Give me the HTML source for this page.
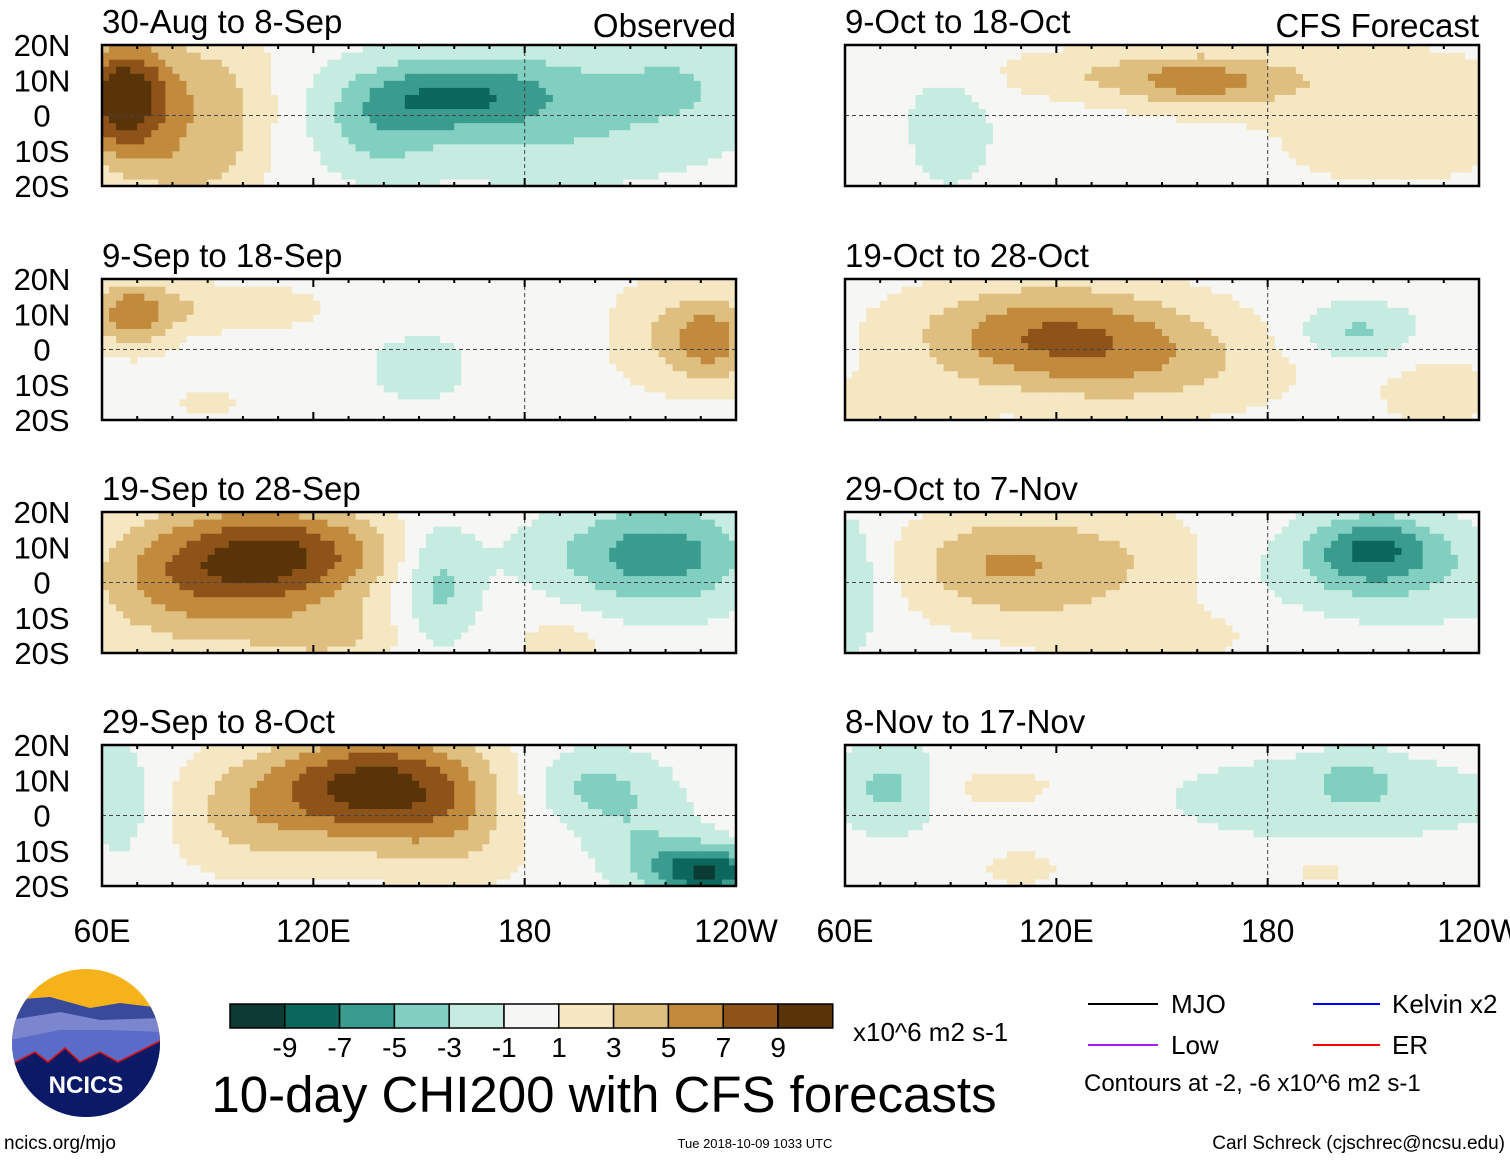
<!DOCTYPE html>
<html><head><meta charset="utf-8"><style>
body{margin:0;background:#fff;}
svg text{font-family:"Liberation Sans",sans-serif;fill:#000;}
</style></head><body>
<svg id="chart" width="1510" height="1159" viewBox="0 0 1510 1159" xmlns="http://www.w3.org/2000/svg">
<g id="panels"></g>
<g id="colorbar"></g>
<g>
<defs><clipPath id="lc"><circle cx="86" cy="1043" r="74"/></clipPath></defs>
<g clip-path="url(#lc)">
<rect x="10" y="968" width="152" height="150" fill="#f6b21a"/>
<path d="M10 1000 L50 997 L90 1008 L120 1003 L162 1008 L162 1118 L10 1118Z" fill="#3a4a9a"/>
<path d="M10 1020 L60 1012 L100 1020 L162 1018 L162 1118 L10 1118Z" fill="#7b86cf"/>
<path d="M10 1040 L60 1030 L110 1030 L162 1032 L162 1118 L10 1118Z" fill="#5a6cc8"/>
<path d="M10 1065 L35 1052 L48 1062 L65 1048 L80 1062 L100 1052 L118 1062 L162 1040 L162 1118 L10 1118Z" fill="#0b1a66" stroke="#e01010" stroke-width="1.5"/>
</g>
<text x="86" y="1093" font-size="24" font-weight="bold" text-anchor="middle" style="fill:#fff">NCICS</text>
</g>
<text x="4" y="1149" font-size="19">ncics.org/mjo</text>
<text x="604" y="1112" font-size="51" text-anchor="middle">10-day CHI200 with CFS forecasts</text>
<text x="755" y="1148" font-size="13" text-anchor="middle">Tue 2018-10-09 1033 UTC</text>
<text x="1505" y="1149" font-size="19" text-anchor="end">Carl Schreck (cjschrec@ncsu.edu)</text>
<text x="853" y="1041" font-size="26">x10^6 m2 s-1</text>
<g>
<line x1="1088" y1="1004" x2="1158" y2="1004" stroke="#000" stroke-width="2"/><text x="1171" y="1013" font-size="26">MJO</text>
<line x1="1088" y1="1045" x2="1158" y2="1045" stroke="#a020f0" stroke-width="2"/><text x="1171" y="1054" font-size="26">Low</text>
<line x1="1313" y1="1004" x2="1380" y2="1004" stroke="#0000ff" stroke-width="2"/><text x="1392" y="1013" font-size="26">Kelvin x2</text>
<line x1="1313" y1="1045" x2="1380" y2="1045" stroke="#ff0000" stroke-width="2"/><text x="1392" y="1054" font-size="26">ER</text>
<text x="1084" y="1091" font-size="24">Contours at -2, -6 x10^6 m2 s-1</text>
</g>
</svg>
<script>
const levels=[-9,-7,-5,-3,-1,1,3,5,7,9];
const colors=["#0b3b33","#0c675c","#3a9c8f","#80cfc0","#c6ece2","#f6f6f4","#f6e7c3","#dfbf7f","#c18a3c","#8e5318","#5a3409"];
const titles=["30-Aug to 8-Sep","9-Sep to 18-Sep","19-Sep to 28-Sep","29-Sep to 8-Oct","9-Oct to 18-Oct","19-Oct to 28-Oct","29-Oct to 7-Nov","8-Nov to 17-Nov"];
// blobs: [lon, lat, amplitude, sigmaLon, sigmaLat]
const blobs0=[[66,5,11,10,12],[92,2,4,12,16],[82,-15,2,12,6],[160,6,-5,18,7],[190,2,-3.5,35,14],[138,-3,-3,12,10],[225,10,-1.5,12,8]];
const blobs1=[[68,10,5.5,9,7],[95,12,2.5,20,5],[150,-5,-2.2,10,7],[233,3,6,9,9],[215,5,2,10,12],[90,-15,1.2,12,5]];
const blobs2=[[112,8,8,22,10],[85,0,5,22,14],[125,-15,3,15,6],[155,0,-4,8,12],[220,8,-5.5,18,11],[190,-17,2.5,8,4],[195,8,-1.5,20,8]];
const blobs3=[[135,8,9.5,20,11],[160,0,3,15,15],[100,0,3,15,12],[65,5,-2.5,7,12],[200,8,-3.5,14,8],[232,-16,-9,11,5],[215,-8,-2.5,12,8]];
const blobs4=[[160,10,4.2,15,5],[195,10,2.5,40,8],[125,12,2,20,5],[90,-3,-2,10,14],[215,-10,1.8,25,8]];
const blobs5=[[118,5,6.2,28,10],[145,-5,3,30,10],[205,5,-3.5,12,6],[75,-15,2,15,6],[228,-12,2,12,8]];
const blobs6=[[125,5,3.8,28,12],[100,5,2.5,15,10],[210,10,-6,13,7],[215,2,-2.5,35,10],[62,0,-2.5,6,15],[150,-15,1.5,25,6]];
const blobs7=[[72,8,-3.5,10,9],[200,5,-2,40,10],[205,10,-2.5,8,5],[105,8,1.8,14,5],[110,-15,2,8,4],[195,-15,1.5,10,4]];
const allBlobs=[blobs0,blobs1,blobs2,blobs3,blobs4,blobs5,blobs6,blobs7];
const panelX=[102,845], panelY=[45,279,512,745], PW=634, PH=141;
const NS="http://www.w3.org/2000/svg";
function mk(t,a,p){const e=document.createElementNS(NS,t);for(const k in a)e.setAttribute(k,a[k]);p.appendChild(e);return e;}
function col(v){let i=0;while(i<levels.length&&v>levels[i])i++;return colors[i];}
const root=document.getElementById('panels');
for(let p=0;p<8;p++){
  const ox=panelX[p<4?0:1], oy=panelY[p%4];
  const xs=lon=>ox+(lon-60)/180*PW, ys=lat=>oy+(20-lat)/40*PH;
  const g=mk('g',{},root);
  
  
  const b=allBlobs[p];
  for(let lon=60;lon<240;lon+=2){for(let lat=-20;lat<20;lat+=2){
    const cl=lon+1,ct=lat+1;let v=0;
    for(const q of b){const dx=(cl-q[0])/q[3],dy=(ct-q[1])/q[4];v+=q[2]*Math.exp(-(dx*dx+dy*dy)/2);}
    const r=mk('rect',{x:xs(lon),y:ys(lat+2),width:PW/90+0.6,height:PH/20+0.6,fill:col(v)},g);
    
    
  }}
  mk('line',{x1:ox,y1:ys(0),x2:ox+PW,y2:ys(0),stroke:'#444','stroke-dasharray':'4,3','stroke-width':1},g);
  mk('line',{x1:xs(180),y1:oy,x2:xs(180),y2:oy+PH,stroke:'#444','stroke-dasharray':'4,3','stroke-width':1},g);
  mk('rect',{x:ox,y:oy,width:PW,height:PH,fill:'none',stroke:'#000','stroke-width':2.5},g);
  for(let lon=60;lon<=240;lon+=10){const L=lon%60==0?8:4;
    mk('line',{x1:xs(lon),y1:oy,x2:xs(lon),y2:oy+L,stroke:'#000','stroke-width':2},g);
    mk('line',{x1:xs(lon),y1:oy+PH,x2:xs(lon),y2:oy+PH-L,stroke:'#000','stroke-width':2},g);}
  const t=mk('text',{x:ox,y:oy-12,'font-size':33},g);t.textContent=titles[p];
  
  
  if(p==0){const o=mk('text',{x:736,y:37,'font-size':33,'text-anchor':'end'},g);o.textContent='Observed';}
  if(p==4){const o=mk('text',{x:1479,y:37,'font-size':33,'text-anchor':'end'},g);o.textContent='CFS Forecast';}
  if(p<4){["20N","10N","0","10S","20S"].forEach((s,i)=>{const tt=mk('text',{x:42,y:ys(20-i*10)+11,'font-size':31,'text-anchor':'middle'},g);tt.textContent=s;
    
    });}
  if(p%4==3){["60E","120E","180","120W"].forEach((s,i)=>{const tt=mk('text',{x:ox+i*PW/3,y:942,'font-size':32,'text-anchor':'middle'},g);tt.textContent=s;
    
    });}
}
const cb=document.getElementById('colorbar');
colors.forEach((c,i)=>{const r=mk('rect',{x:230+i*54.8,y:1004,width:54.8,height:24,fill:c,stroke:'#000','stroke-width':1.5},cb);
  
  });
levels.forEach((l,i)=>{const t=mk('text',{x:285+i*54.8,y:1057,'font-size':28,'text-anchor':'middle'},cb);t.textContent=l;
  
  });
</script>
</body></html>
